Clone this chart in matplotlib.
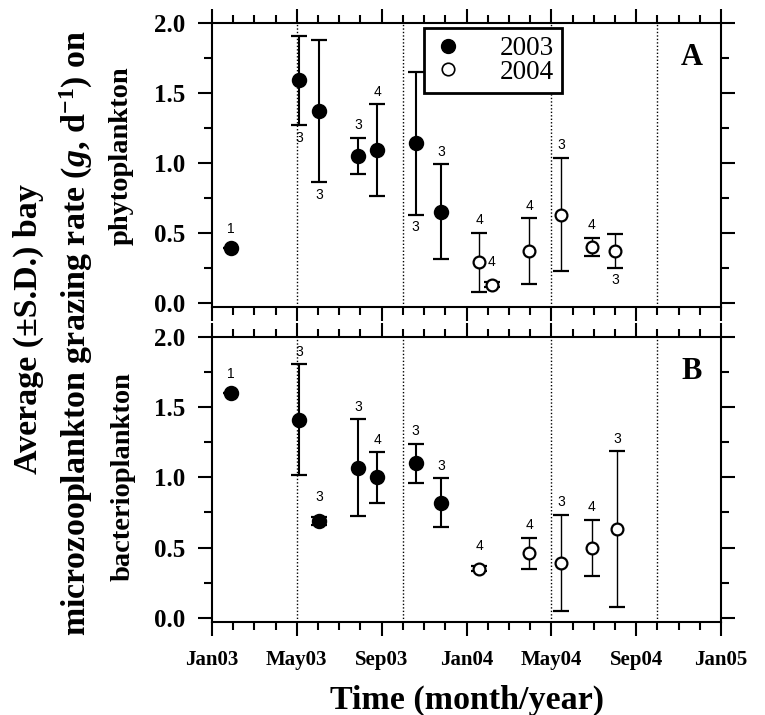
"""Bay microzooplankton grazing rates on phytoplankton (A) and bacterioplankton (B)."""

import matplotlib
matplotlib.use("Agg")
import matplotlib.pyplot as plt
from matplotlib.lines import Line2D
from matplotlib.ticker import MultipleLocator

plt.rcParams["font.family"] = ["Liberation Serif", "DejaVu Serif"]
plt.rcParams["mathtext.fontset"] = "custom"
plt.rcParams["mathtext.rm"] = "Liberation Serif:bold"
plt.rcParams["mathtext.it"] = "Liberation Serif:italic:bold"
plt.rcParams["mathtext.bf"] = "Liberation Serif:bold"

W, H = 765, 715

# months since Jan 2003
TICK_MONTHS = [0, 4, 8, 12, 16, 20, 24]
TICK_LABELS = ["Jan03", "May03", "Sep03", "Jan04", "May04", "Sep04", "Jan05"]
SEASON_BREAKS = [4, 9, 16, 21]

# panel A: phytoplankton
A03_MONTH = [0.9, 4.1, 5.05, 6.9, 7.8, 9.6, 10.8]
A03_RATE = [0.39, 1.59, 1.37, 1.05, 1.09, 1.14, 0.65]
A03_SD = [0.0, 0.32, 0.51, 0.13, 0.33, 0.51, 0.34]
A03_N = [1, 3, 3, 3, 4, 3, 3]
A03_NPOS = ["a", "b", "b", "a", "a", "b", "a"]

A04_MONTH = [12.6, 13.2, 14.95, 16.45, 17.9, 19.0]
A04_RATE = [0.29, 0.13, 0.37, 0.63, 0.40, 0.37]
A04_SD = [0.21, 0.02, 0.235, 0.405, 0.065, 0.12]
A04_N = [4, 4, 4, 3, 4, 3]
A04_NPOS = ["a", "a", "a", "a", "a", "b"]

# panel B: bacterioplankton
B03_MONTH = [0.9, 4.1, 5.05, 6.9, 7.8, 9.6, 10.8]
B03_RATE = [1.60, 1.41, 0.69, 1.07, 1.00, 1.10, 0.82]
B03_SD = [0.0, 0.395, 0.03, 0.345, 0.18, 0.14, 0.175]
B03_N = [1, 3, 3, 3, 4, 3, 3]
B03_NPOS = ["a"] * 7

B04_MONTH = [12.6, 14.95, 16.45, 17.9, 19.1]
B04_RATE = [0.35, 0.46, 0.39, 0.50, 0.63]
B04_SD = [0.02, 0.11, 0.345, 0.20, 0.555]
B04_N = [4, 4, 3, 4, 3]
B04_NPOS = ["a"] * 5


def px(x, y):
    return x / W, 1 - y / H


def draw_series(ax, months, rate, sd, ns, npos, filled):
    face = "black" if filled else "white"
    lw = 1.5 if filled else 1.0
    ax.errorbar(months, rate, yerr=sd, fmt="o", ms=9.5 if filled else 8.5,
                mfc=face, mec="black", mew=1.6, ecolor="black", elinewidth=lw,
                capsize=6, capthick=lw, zorder=3)
    for x, y, s, n, pos in zip(months, rate, sd, ns, npos):
        off = 4 if s > 0.05 else 9
        if pos == "a":
            ax.annotate(str(n), (x, y + s), xytext=(0, off), textcoords="offset points",
                        ha="center", va="bottom", fontsize=10, family="Liberation Sans")
        else:
            ax.annotate(str(n), (x, y - s), xytext=(0, -off), textcoords="offset points",
                        ha="center", va="top", fontsize=10, family="Liberation Sans")


def style_axis(ax, letter, show_xlabels):
    ax.set_xlim(0, 24)
    ax.set_ylim(-0.03, 2.0)
    ax.set_xticks(TICK_MONTHS)
    ax.set_xticklabels(TICK_LABELS if show_xlabels else [])
    ax.xaxis.set_minor_locator(MultipleLocator(1))
    ax.yaxis.set_major_locator(MultipleLocator(0.5))
    ax.yaxis.set_minor_locator(MultipleLocator(0.25))
    ax.yaxis.set_major_formatter(lambda v, p: f"{v:.1f}")
    ax.tick_params(which="both", direction="out", top=True, right=True, width=1.5)
    ax.tick_params(which="major", length=10)
    ax.tick_params(which="minor", length=5.5)
    ax.tick_params(axis="y", labelsize=18, pad=9)
    ax.tick_params(axis="x", labelsize=15, pad=10)
    for lab in ax.get_xticklabels() + ax.get_yticklabels():
        lab.set_fontweight("bold")
    for sp in ax.spines.values():
        sp.set_linewidth(1.5)
    for m in SEASON_BREAKS:
        ax.axvline(m, color="black", lw=1.0, ls=(0, (1, 1.5)), zorder=1)
    ax.text(0.942, 0.88, letter, transform=ax.transAxes, ha="center", va="center",
            fontsize=22, fontweight="bold")


def main():
    fig = plt.figure(figsize=(W / 100, H / 100), dpi=100)
    ax_a = fig.add_axes([212 / W, 1 - 307 / H, 509 / W, 284 / H])
    ax_b = fig.add_axes([212 / W, 1 - 622 / H, 509 / W, 285 / H])

    draw_series(ax_a, A03_MONTH, A03_RATE, A03_SD, A03_N, A03_NPOS, True)
    draw_series(ax_a, A04_MONTH, A04_RATE, A04_SD, A04_N, A04_NPOS, False)
    draw_series(ax_b, B03_MONTH, B03_RATE, B03_SD, B03_N, B03_NPOS, True)
    draw_series(ax_b, B04_MONTH, B04_RATE, B04_SD, B04_N, B04_NPOS, False)

    style_axis(ax_a, "A", False)
    style_axis(ax_b, "B", True)

    handles = [
        Line2D([], [], ls="none", marker="o", ms=10, mfc="black", mec="black"),
        Line2D([], [], ls="none", marker="o", ms=9, mfc="white", mec="black", mew=1.2),
    ]
    leg = ax_a.legend(handles, ["2003", "2004"], loc="upper left",
                      bbox_to_anchor=(0.4165, 0.982), fontsize=19.5, frameon=True,
                      fancybox=False, edgecolor="black", framealpha=1,
                      borderpad=0.3, handlelength=1.2, handletextpad=1.3,
                      labelspacing=-0.05, borderaxespad=0)
    leg.get_frame().set_linewidth(2)

    fig.text(*px(28, 329), "Average (±S.D.) bay", rotation=90, ha="center", va="center",
             fontsize=24.5, fontweight="bold")
    fig.text(*px(76, 333), r"microzooplankton grazing rate ($\mathit{g}$, d$^{-1}$) on",
             rotation=90, ha="center", va="center", fontsize=24.5, fontweight="bold")
    fig.text(*px(121, 156), "phytoplankton", rotation=90, ha="center", va="center",
             fontsize=20.5, fontweight="bold")
    fig.text(*px(123, 477), "bacterioplankton", rotation=90, ha="center", va="center",
             fontsize=20.5, fontweight="bold")
    fig.text(*px(467, 700), "Time (month/year)", ha="center", va="center",
             fontsize=24.5, fontweight="bold")

    fig.savefig("out.png", dpi=100, facecolor="white")
    plt.close(fig)


if __name__ == "__main__":
    main()
